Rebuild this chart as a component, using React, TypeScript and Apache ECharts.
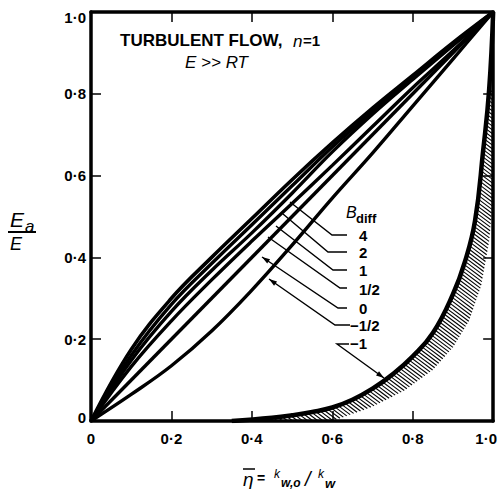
import React, { useEffect, useRef } from "react";
import * as echarts from "echarts";

// ---- data ----
const axisTicks = [0, 0.2, 0.4, 0.6, 0.8, 1.0];
const etaGrid = [0, 0.1, 0.2, 0.3, 0.4, 0.5, 0.6, 0.7, 0.8, 0.9, 1.0];
const curveB4 = [0, 0.175, 0.3, 0.4, 0.495, 0.59, 0.68, 0.765, 0.845, 0.925, 1.0];
const curveB2 = [0, 0.16, 0.285, 0.385, 0.48, 0.575, 0.67, 0.757, 0.84, 0.922, 1.0];
const curveB1 = [0, 0.148, 0.268, 0.368, 0.46, 0.557, 0.658, 0.75, 0.835, 0.918, 1.0];
const curveBHalf = [0, 0.133, 0.245, 0.345, 0.44, 0.532, 0.625, 0.72, 0.815, 0.905, 1.0];
const curveBMinusHalf = [0, 0.065, 0.135, 0.22, 0.32, 0.43, 0.545, 0.655, 0.77, 0.885, 1.0];
const curveB0Eta = [0, 1];
const curveB0 = [0, 1];
const curveBMinus1Eta = [0.35, 0.45, 0.5, 0.55, 0.6, 0.65, 0.7, 0.75, 0.8, 0.85, 0.9, 0.93, 0.955, 0.975, 0.99, 1.0];
const curveBMinus1 = [0, 0.008, 0.014, 0.022, 0.033, 0.052, 0.079, 0.114, 0.158, 0.215, 0.31, 0.39, 0.49, 0.66, 0.81, 1.0];
const hatchOuterEta = [0.45, 0.6, 0.7, 0.78, 0.85, 0.9, 0.94, 0.97, 0.99, 1.0, 1.0];
const hatchOuter = [0, 0, 0.035, 0.075, 0.125, 0.18, 0.245, 0.33, 0.44, 0.55, 0.81];
const legendTitle = "B";
const legendSub = "diff";
const legendLabels = ["4", "2", "1", "1/2", "0", "\u22121/2", "\u22121"];

const FONT = '"Liberation Sans", Arial, sans-serif';

function fmt(v: number): string {
  if (v === 0) return "0";
  return v.toFixed(1).replace(".", "\u00B7");
}

function pairs(xs: number[], ys: number[]) {
  return xs.map((x, i) => [x, ys[i]]);
}

function arrowHead(tip: number[], from: number[], len = 8, half = 2.6) {
  const dx = tip[0] - from[0];
  const dy = tip[1] - from[1];
  const d = Math.hypot(dx, dy);
  const ux = dx / d, uy = dy / d;
  const bx = tip[0] - ux * len, by = tip[1] - uy * len;
  return [
    [tip[0], tip[1]],
    [bx - uy * half, by + ux * half],
    [bx + uy * half, by - ux * half],
  ];
}

export default function App() {
  const ref = useRef<HTMLDivElement>(null);
  useEffect(() => {
    if (!ref.current) return;
    const chart = echarts.init(ref.current, null, { renderer: "svg" });

    const curveStyle = (w: number) => ({
      type: "line" as const,
      showSymbol: false,
      symbol: "none",
      silent: true,
      smooth: 0.4,
      lineStyle: { color: "#000", width: w },
      z: 3,
    });

    const hatchSeries = {
      type: "custom" as const,
      silent: true,
      data: [0],
      z: 2,
      renderItem: (params: any, api: any) => {
        const inner: number[][] = [];
        curveBMinus1Eta.forEach((e, i) => {
          const y = curveBMinus1[i];
          if (e >= 0.45 && y <= 0.81) inner.push(api.coord([e, y]));
        });
        const outer = hatchOuterEta.map((e, i) => api.coord([e, hatchOuter[i]])).reverse();
        const poly = inner.concat(outer);
        const s = 0.75;
        const step = 3.8;
        const cs = poly.map((p) => p[1] - s * p[0]);
        const cmin = Math.min(...cs);
        const cmax = Math.max(...cs);
        const children: any[] = [];
        for (let c = Math.ceil(cmin / step) * step; c <= cmax; c += step) {
          const xs: number[] = [];
          for (let k = 0; k < poly.length; k++) {
            const p1 = poly[k];
            const p2 = poly[(k + 1) % poly.length];
            const f1 = p1[1] - s * p1[0] - c;
            const f2 = p2[1] - s * p2[0] - c;
            if ((f1 < 0 && f2 >= 0) || (f1 >= 0 && f2 < 0)) {
              const t = f1 / (f1 - f2);
              xs.push(p1[0] + t * (p2[0] - p1[0]));
            }
          }
          xs.sort((a, b) => a - b);
          for (let k = 0; k + 1 < xs.length; k += 2) {
            children.push({
              type: "line",
              shape: { x1: xs[k], y1: s * xs[k] + c, x2: xs[k + 1], y2: s * xs[k + 1] + c },
              style: { stroke: "#000", lineWidth: 1.1 },
            });
          }
        }
        return { type: "group", children };
      },
    };

    const leaders: { pts: number[][]; arrow: boolean }[] = [
      { pts: [[347, 235], [332, 235], [290, 202]], arrow: false },
      { pts: [[347, 252], [328, 252], [283, 214]], arrow: false },
      { pts: [[347, 270], [333, 270], [276, 226]], arrow: false },
      { pts: [[347, 288], [340, 288], [268, 237]], arrow: false },
      { pts: [[347, 308], [338, 308], [262, 257]], arrow: true },
      { pts: [[350, 325], [335, 325], [269, 279]], arrow: true },
      { pts: [[349, 344], [337, 344], [384, 378]], arrow: true },
    ];
    const leaderGraphics: any[] = [];
    leaders.forEach((l) => {
      leaderGraphics.push({
        type: "polyline",
        shape: { points: l.pts },
        style: { stroke: "#000", lineWidth: 1.4, fill: null },
        z: 10,
      });
      if (l.arrow) {
        const n = l.pts.length;
        leaderGraphics.push({
          type: "polygon",
          shape: { points: arrowHead(l.pts[n - 1], l.pts[n - 2]) },
          style: { fill: "#000" },
          z: 10,
        });
      }
    });

    const legendY = [235, 252, 270, 289, 308, 325, 343];
    const legendX = [359, 359, 359, 359, 359, 350, 350];
    const legendTexts = legendLabels.map((t, i) => ({
      type: "text",
      x: legendX[i],
      y: legendY[i],
      style: { text: t, font: `bold 15px ${FONT}`, fill: "#000", textAlign: "left", textVerticalAlign: "middle", verticalAlign: "middle" },
      z: 10,
    }));

    const txt = (text: string, x: number, y: number, font: string) => ({
      type: "text",
      x,
      y,
      style: { text, font, fill: "#000", textAlign: "left", textVerticalAlign: "middle", verticalAlign: "middle" },
      z: 10,
    });

    const axisCommon = {
      type: "value" as const,
      min: 0,
      max: 1,
      interval: 0.2,
      splitLine: { show: false },
      axisLine: { show: true, onZero: false, lineStyle: { color: "#000", width: 3.5 } },
      axisTick: { show: true, inside: true, length: 10, lineStyle: { color: "#000", width: 1.5 } },
    };

    chart.setOption({
      animation: false,
      backgroundColor: "#fff",
      grid: { left: 91, right: 2, top: 12, bottom: 68, containLabel: false },
      xAxis: [
        {
          ...axisCommon,
          position: "bottom",
          axisLabel: {
            show: true,
            margin: 10,
            color: "#000",
            fontFamily: FONT,
            fontSize: 15,
            fontWeight: "bold",
            formatter: (v: number) => (v === 1 ? "{r|" + fmt(v) + "}" : fmt(v)),
            rich: { r: { padding: [0, 14, 0, 0], fontFamily: FONT, fontSize: 15, fontWeight: "bold", color: "#000" } },
          },
        },
        { ...axisCommon, position: "top", axisLabel: { show: false } },
      ],
      yAxis: [
        {
          ...axisCommon,
          position: "left",
          axisLabel: {
            show: true,
            margin: 5,
            color: "#000",
            fontFamily: FONT,
            fontSize: 15,
            fontWeight: "bold",
            formatter: (v: number) => (v === 1 ? "{t|" + fmt(v) + "}" : v === 0 ? "{b|" + fmt(v) + "}" : fmt(v)),
            rich: {
              t: { padding: [10, 0, 0, 0], fontFamily: FONT, fontSize: 15, fontWeight: "bold", color: "#000" },
              b: { padding: [0, 0, 8, 0], fontFamily: FONT, fontSize: 15, fontWeight: "bold", color: "#000" },
            },
          },
        },
        { ...axisCommon, position: "right", axisLabel: { show: false } },
      ],
      series: [
        hatchSeries,
        { ...curveStyle(3.6), name: "4", data: pairs(etaGrid, curveB4) },
        { ...curveStyle(3.4), name: "2", data: pairs(etaGrid, curveB2) },
        { ...curveStyle(3.4), name: "1", data: pairs(etaGrid, curveB1) },
        { ...curveStyle(3.4), name: "1/2", data: pairs(etaGrid, curveBHalf) },
        { ...curveStyle(3.4), name: "0", smooth: false, data: pairs(curveB0Eta, curveB0) },
        { ...curveStyle(3.4), name: "-1/2", data: pairs(etaGrid, curveBMinusHalf) },
        { ...curveStyle(4.5), name: "-1", smooth: 0.45, data: pairs(curveBMinus1Eta, curveBMinus1) },
      ],
      graphic: [
        txt("TURBULENT FLOW,", 120, 40, `bold 17px ${FONT}`),
        txt("n", 293, 41, `italic 17px ${FONT}`),
        txt("=1", 303, 40, `bold 15px ${FONT}`),
        txt("E >> RT", 185, 62, `italic 17px ${FONT}`),
        // y axis label
        txt("E", 10, 219, `italic 21px ${FONT}`),
        txt("a", 25, 226, `italic 17px ${FONT}`),
        { type: "line", shape: { x1: 8, y1: 232, x2: 36, y2: 232 }, style: { stroke: "#000", lineWidth: 2 } },
        txt("E", 10, 244, `italic 18px ${FONT}`),
        // x axis label
        txt("\u03B7", 243, 479, `italic 19px ${FONT}`),
        { type: "line", shape: { x1: 243, y1: 469, x2: 255, y2: 469 }, style: { stroke: "#000", lineWidth: 1.5 } },
        txt("=", 257, 478, `bold 14px ${FONT}`),
        txt("k", 274, 474, `italic 12px ${FONT}`),
        txt("w,o", 281, 483, `italic bold 12px ${FONT}`),
        txt("/", 305, 479, `italic 20px ${FONT}`),
        txt("k", 318, 474, `italic 12px ${FONT}`),
        txt("w", 325, 483, `italic bold 13px ${FONT}`),
        // legend
        txt(legendTitle, 346, 212, `italic 16px ${FONT}`),
        txt(legendSub, 356, 218, `bold 13px ${FONT}`),
        ...legendTexts,
        ...leaderGraphics,
      ],
    });
    return () => chart.dispose();
  }, []);
  return <div ref={ref} style={{ position: "fixed", left: 0, top: 0, width: 500, height: 489 }} />;
}
